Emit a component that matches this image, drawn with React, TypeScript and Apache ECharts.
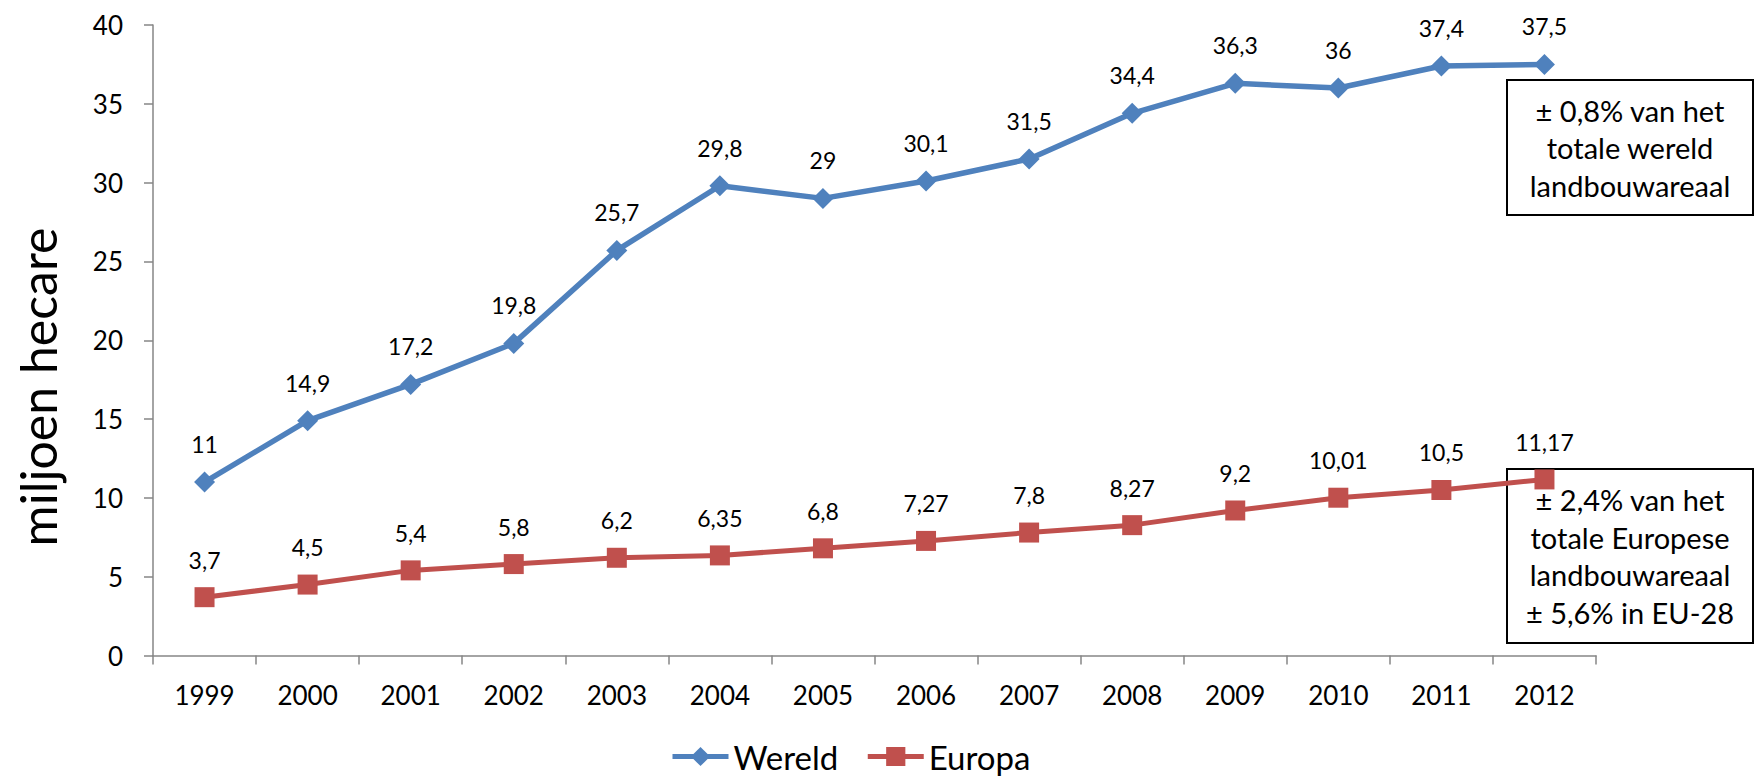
import React, { useEffect, useRef } from "react";
import * as echarts from "echarts";

const years = ["1999", "2000", "2001", "2002", "2003", "2004", "2005", "2006", "2007", "2008", "2009", "2010", "2011", "2012"];
const wereld = [11, 14.9, 17.2, 19.8, 25.7, 29.8, 29, 30.1, 31.5, 34.4, 36.3, 36, 37.4, 37.5];
const europa = [3.7, 4.5, 5.4, 5.8, 6.2, 6.35, 6.8, 7.27, 7.8, 8.27, 9.2, 10.01, 10.5, 11.17];
const yTicks = { min: 0, max: 40, interval: 5 };
const yTitle = "miljoen hecare";
const box1Lines = ["± 0,8% van het", "totale wereld", "landbouwareaal"];
const box2Lines = ["± 2,4% van het", "totale Europese", "landbouwareaal", "± 5,6% in EU-28"];

const FONT = "Lato";
const fmt = (v: number) => String(v).replace(".", ",");

export default function App() {
  const ref = useRef<HTMLDivElement>(null);
  useEffect(() => {
    document.body.style.margin = "0";
    if (!ref.current) return;
    const chart = echarts.init(ref.current, null, { renderer: "svg" });
    const labelStyle = {
      show: true,
      position: "top",
      distance: 16,
      fontFamily: FONT,
      fontSize: 23,
      color: "#000",
      formatter: (p: any) => fmt(p.value),
    };
    const box = (x: number, y: number, w: number, h: number, lines: string[], lh: number) => ({
      type: "group",
      z: 1,
      children: [
        {
          type: "rect",
          shape: { x, y, width: w, height: h },
          style: { fill: "#fff", stroke: "#000", lineWidth: 2 },
          z: 1,
        },
        ...lines.map((t, i) => ({
          type: "text",
          x: x + w / 2,
          y: y + h / 2 + (i - (lines.length - 1) / 2) * lh,
          z: 1,
          style: {
            text: t,
            fontFamily: FONT,
            fontSize: 29,
            fill: "#000",
            align: "center",
            verticalAlign: "middle",
          },
        })),
      ],
    });
    chart.setOption({
      animation: false,
      grid: { left: 153, right: 158, top: 25, bottom: 124.5 },
      legend: {
        left: 665,
        top: 735,
        itemWidth: 56,
        itemHeight: 24,
        itemGap: 27,
        lineStyle: { width: 5 },
        textStyle: { fontFamily: FONT, fontSize: 33, color: "#000" },
        data: ["Wereld", "Europa"],
      },
      xAxis: {
        type: "category",
        data: years,
        boundaryGap: true,
        axisLine: { lineStyle: { color: "#868686", width: 1.5 } },
        axisTick: { show: true, length: 9, lineStyle: { color: "#868686", width: 1.5 } },
        axisLabel: { margin: 26, fontFamily: FONT, fontSize: 26, color: "#000" },
      },
      yAxis: {
        type: "value",
        min: yTicks.min,
        max: yTicks.max,
        interval: yTicks.interval,
        splitLine: { show: false },
        axisLine: { show: true, lineStyle: { color: "#868686", width: 1.5 } },
        axisTick: { show: true, length: 9, lineStyle: { color: "#868686", width: 1.5 } },
        axisLabel: { margin: 30, fontFamily: FONT, fontSize: 26, color: "#000" },
      },
      graphic: [
        {
          type: "text",
          x: 38,
          y: 387,
          rotation: Math.PI / 2,
          style: {
            text: yTitle,
            fontFamily: FONT,
            fontSize: 50,
            fill: "#000",
            align: "center",
            verticalAlign: "middle",
          },
        },
        box(1507, 80, 246, 135, box1Lines, 37.5),
        box(1507, 469, 246, 174, box2Lines, 37.7),
      ],
      series: [
        {
          name: "Wereld",
          type: "line",
          data: wereld,
          z: 3,
          symbol: "diamond",
          symbolSize: 21,
          lineStyle: { color: "#4F81BD", width: 5.5 },
          itemStyle: { color: "#4F81BD" },
          label: labelStyle,
        },
        {
          name: "Europa",
          type: "line",
          data: europa,
          z: 3,
          symbol: "rect",
          symbolSize: 20,
          lineStyle: { color: "#C0504D", width: 5 },
          itemStyle: { color: "#C0504D" },
          label: labelStyle,
        },
      ],
    });
    return () => chart.dispose();
  }, []);
  return <div ref={ref} style={{ width: 1754, height: 780 }} />;
}
